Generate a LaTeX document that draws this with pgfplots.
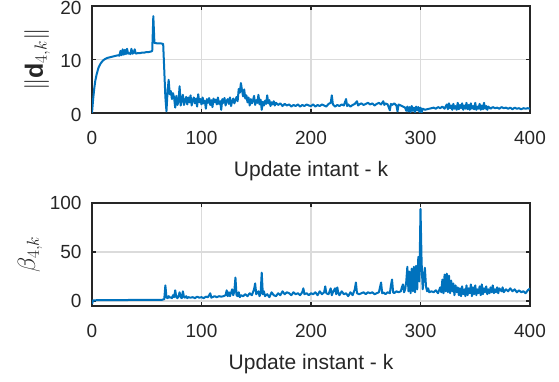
\documentclass[border=0pt]{standalone}
\usepackage{pgfplots}
\pgfplotsset{compat=1.18}
\usepackage{fontspec}
\setmainfont{Liberation Sans}
\definecolor{mblue}{rgb}{0,0.447,0.741}
\definecolor{axgray}{rgb}{0.15,0.15,0.15}
\pgfplotsset{
  common/.style={
    scale only axis, anchor=south west, width=438pt,
    xmin=0, xmax=400, xtick={0,100,200,300,400},
    grid=major, major grid style={color=black!14, line width=1.4pt},
    axis line style={color=axgray, line width=1.5pt},
    tick style={color=axgray, line width=1.5pt},
    major tick length=4pt,
    tick align=inside,
    /pgf/number format/assume math mode=true,
    ticklabel style={font=\fontsize{19}{22}\selectfont, text=axgray},
    label style={font=\fontsize{21}{24}\selectfont, text=axgray},
    x tick label style={yshift=-15pt},
    y tick label style={xshift=-7pt},
    xlabel style={yshift=-9pt},
  },
  dline/.style={draw=mblue, line width=2pt, line join=round, mark=none},
}
\begin{document}
\begin{tikzpicture}
\useasboundingbox (0,0) rectangle (559pt,382pt);
\begin{axis}[common, at={(92pt,269pt)}, height=107pt,
  ymin=0, ymax=20, ytick={0,10,20},
  y tick label style={yshift=-1.5pt},
  xlabel={Update intant - k},
  ylabel={$\|\mathbf{d}_{4,k}\|$},
  ylabel style={at={(axis description cs:-0.1256,0.5)}, anchor=center, font=\fontsize{25}{28}\selectfont}]
\addplot[dline] coordinates {
(0,0) (1,2.5) (2,4.5) (3,6.0) (4,7.0) (5,7.8) (6,8.5) (8,9.3) (10,9.8) (12,10.1) (14,10.3) (16,10.4) (18,10.5) (20,10.6) (22,10.7) (24,10.8)
(25,10.7) (26,11.6) (27,10.8) (28,11.9) (29,10.9) (30,11.8) (31,11.0) (32,12.0) (33,11.1) (34,11.2) (35,11.0) (36,12.0) (37,11.1) (38,11.2) (39,11.9) (40,11.1)
(42,11.2) (44,11.2) (46,11.3) (48,11.3) (50,11.4) (52,11.4) (54,11.5) (55,11.6) (56,18.1) (57,13.1) (60,13.0) (63,13.0) (65,12.9) (66,8.0) (67,3.0) (68,0.3)
(69,4.0) (70,6.2) (71,3.5) (72,4.1) (73,2.6) (74,3.7) (75,2.8) (76,1.0) (77,3.2) (78,1.5) (79,2.1) (80,5.0) (81,1.4) (82,2.6) (83,3.4) (84,1.5)
(85,2.2) (86,3.0) (87,1.6) (88,2.9) (89,2.0) (90,3.3) (91,1.4) (92,2.4) (93,2.9) (94,1.8) (95,2.7) (96,1.2) (97,3.5) (98,2.0) (99,2.6) (100,1.6)
(101,2.9) (102,1.8) (103,2.3) (104,0.8) (105,2.6) (106,1.9) (107,2.8) (108,1.5) (109,2.4) (110,1.1) (111,2.7) (112,2.0) (113,2.5) (114,1.6) (115,2.9) (116,1.7)
(117,2.2) (118,0.6) (119,2.6) (120,1.9) (121,2.8) (122,1.4) (123,2.3) (124,2.6) (125,1.7) (126,2.9) (127,1.3) (128,2.2) (129,2.7) (130,1.8) (131,2.4) (132,3.0)
(133,2.2) (134,4.5) (135,3.8) (136,5.6) (137,4.2) (138,3.1) (139,4.4) (140,2.7) (141,3.3) (142,2.0) (143,2.9) (144,1.4) (145,2.6) (146,1.8) (147,2.3) (148,3.2)
(149,1.5) (150,2.4) (151,1.9) (152,3.4) (153,1.6) (154,2.5) (155,0.6) (156,2.1) (157,1.4) (158,2.3) (159,1.7) (160,3.3) (161,1.8) (162,2.4) (163,1.3) (164,2.0)
(165,1.6) (166,2.2) (167,1.4) (168,1.9) (170,1.5) (172,1.8) (174,1.3) (176,1.7) (178,1.4) (180,1.6) (182,1.2) (184,1.5) (186,1.3) (188,1.6) (190,1.2) (192,1.5)
(194,1.3) (196,1.6) (198,1.4) (200,1.3) (202,1.6) (204,1.2) (206,1.5) (208,1.3) (210,1.6) (212,1.4) (214,1.2) (216,1.7) (218,1.9) (219,3.3) (220,1.6) (222,1.2)
(224,1.5) (226,1.3) (228,1.6) (230,1.4) (232,2.6) (233,1.3) (234,1.6) (236,1.2) (238,1.5) (240,1.7) (242,2.2) (243,1.4) (244,1.6) (246,1.8) (248,1.5) (250,1.7)
(252,1.9) (254,1.6) (256,1.8) (258,1.4) (260,1.7) (262,1.9) (264,1.6) (266,2.2) (267,1.5) (268,1.8) (270,1.6) (272,0.5) (273,1.7) (274,1.5) (276,1.8) (278,1.4)
(279,0.3) (280,1.6) (282,1.4) (284,1.2) (286,1.0) (287,0.4) (288,1.2) (289,0.3) (290,1.1) (291,0.2) (292,1.3) (293,0.4) (294,1.0) (295,0.2) (296,1.2) (297,0.5)
(298,1.1) (299,0.2) (300,1.0) (301,0.1) (302,0.8) (304,0.6) (306,0.7) (308,0.8) (310,0.9) (312,1.0) (314,0.8) (316,1.1) (318,0.9) (320,1.2) (322,0.8) (324,1.6)
(325,0.7) (326,1.8) (327,0.9) (328,1.4) (329,0.6) (330,1.7) (331,0.8) (332,1.3) (333,0.6) (334,1.9) (335,0.7) (336,1.5) (337,0.9) (338,1.8) (339,0.6) (340,1.4)
(341,0.8) (342,1.9) (343,0.7) (344,1.5) (345,0.6) (346,1.8) (347,0.8) (348,1.3) (349,0.7) (350,1.9) (351,0.6) (352,1.2) (353,0.8) (354,1.7) (355,0.6) (356,1.4)
(357,0.7) (358,1.9) (359,0.8) (360,1.3) (361,0.6) (362,1.2) (364,0.8) (366,1.1) (368,0.9) (370,1.0) (372,0.8) (374,1.1) (376,0.9) (378,1.0) (380,0.8) (382,1.0)
(384,0.7) (386,1.0) (388,0.8) (390,0.9) (392,0.7) (394,0.9) (396,0.8) (398,0.9) (400,0.8)
};
\end{axis}
\begin{axis}[common, at={(92pt,76pt)}, height=103pt,
  ymin=-5, ymax=100, ytick={0,50,100},
  xlabel={Update instant - k},
  ylabel={$\beta_{4,k}$},
  ylabel style={at={(axis description cs:-0.1416,0.5)}, anchor=center, font=\fontsize{25}{28}\selectfont}]
\addplot[dline] coordinates {
(0,-3) (1,0.8) (10,1.0) (30,1.1) (50,1.2) (64,1.3) (66,2) (67,16) (68,4) (69,3) (70,5) (71,3.5) (72,4) (73,3) (74,6) (75,4)
(76,11) (77,4) (78,3) (79,5) (80,9) (81,4) (82,3) (83,10) (84,4) (85,3.5) (86,5) (87,3) (88,4) (90,3.5) (92,4) (94,3)
(96,4.5) (98,3.5) (100,4) (102,3) (104,4.5) (106,4) (108,8) (109,3.5) (110,4) (112,5) (114,4) (116,5) (118,4.5) (120,5) (122,6) (123,11)
(124,5) (125,9) (126,5) (128,12) (129,6) (130,10) (131,24) (132,6) (133,5) (134,9) (135,4) (136,6) (138,5) (140,7) (142,5) (144,8)
(146,6) (148,12) (149,18) (150,7) (152,10) (153,5) (154,8) (155,29) (156,7) (157,10) (158,5) (160,7) (162,4) (164,9) (166,6) (168,5)
(170,8) (172,6) (174,10) (176,7) (178,9) (180,8) (182,6) (184,9) (186,7) (188,8) (190,6) (192,9) (193,13) (194,7) (196,8) (198,6)
(200,8) (202,7) (204,9) (206,6) (208,10) (210,7) (212,9) (213,15) (214,8) (216,7) (218,13) (219,6) (220,9) (222,13) (223,7) (224,14)
(225,8) (226,6) (228,10) (230,7) (232,8) (234,5) (236,9) (238,6) (240,12) (241,19) (242,8) (244,7) (246,8) (248,9) (250,7) (252,9)
(254,8) (256,9) (258,7) (260,8) (262,9) (263,14) (264,19) (265,8) (266,9) (268,7) (270,9) (272,8) (273,16) (274,22) (275,9) (276,8)
(278,10) (280,9) (282,10) (283,14) (284,17) (285,9) (286,12) (287,20) (288,35) (289,10) (290,30) (291,8) (292,33) (293,10) (294,35) (295,9)
(296,36) (297,12) (298,45) (299,20) (300,94) (301,40) (302,12) (303,25) (304,34) (305,15) (306,10) (307,13) (308,9) (310,10) (312,9) (314,11)
(316,8) (318,14) (319,9) (320,22) (321,8) (322,27) (323,10) (324,28) (325,9) (326,26) (327,8) (328,21) (329,10) (330,18) (331,6) (332,16)
(333,9) (334,14) (335,6) (336,13) (337,5) (338,15) (339,7) (340,12) (341,5) (342,16) (343,6) (344,13) (345,8) (346,17) (347,5) (348,14)
(349,7) (350,16) (351,6) (352,12) (353,8) (354,15) (355,6) (356,17) (357,7) (358,13) (359,9) (360,15) (361,7) (362,12) (363,8) (364,14)
(365,9) (366,16) (367,8) (368,12) (369,9) (370,14) (371,8) (372,13) (374,10) (375,14) (376,9) (378,12) (380,10) (382,13) (384,10) (386,12)
(388,9) (390,11) (392,9) (394,10) (396,8) (398,11) (400,13)
};
\end{axis}
\end{tikzpicture}
\end{document}
